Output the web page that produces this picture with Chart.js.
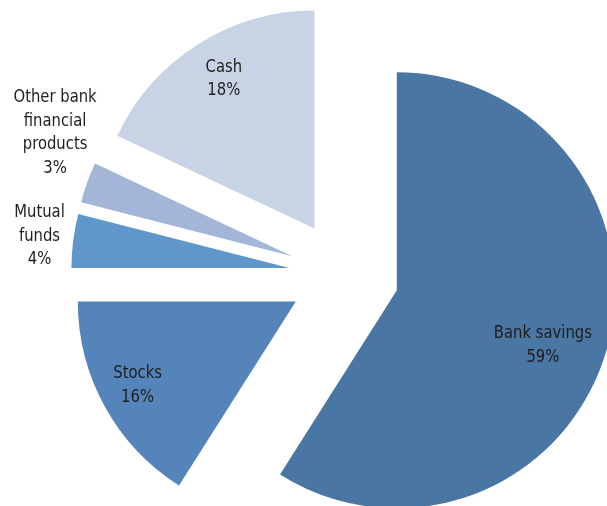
<!DOCTYPE html>
<html>
<head>
<meta charset="utf-8">
<script src="https://cdn.jsdelivr.net/npm/chart.js@4"></script>
<style>
  html, body { margin: 0; padding: 0; background: #fff; }
  #wrap { width: 607px; height: 506px; }
</style>
</head>
<body>
<div id="wrap"><canvas id="pie" width="607" height="506"></canvas></div>
<script>
const categories = ["Bank savings", "Stocks", "Mutual funds", "Other bank financial products", "Cash"];
const shares = [59, 16, 4, 3, 18];
const labelLines = [
  ["Bank savings"],
  ["Stocks"],
  ["Mutual", "funds"],
  ["Other bank", "financial", "products"],
  ["Cash"],
];
const sliceColors = ["#4a76a3", "#5484b9", "#5f97cb", "#a3b6d8", "#c8d3e6"];

// every slice is pulled out of the pie by the same distance
const EXPLODE = 55;

// where each label sits: distance from the pie centre and a small turn off the mid-angle
const labelDist = [211, 234, 307, 322, 230];
const labelTurn = [3.3, 0.7, 0.1, 6.4, 0.9];

const FONT = '18px "DejaVu Sans Condensed", sans-serif';
const SQUEEZE = 0.915;
const LINE_H = 23.5;

// Chart.js shrinks the slice angle when using `offset`, so shift each arc ourselves
const explode = {
  id: "explode",
  beforeDatasetDraw(chart, args) {
    const ctx = chart.ctx;
    args.meta.data.forEach((arc) => {
      const mid = (arc.startAngle + arc.endAngle) / 2;
      ctx.save();
      ctx.translate(Math.cos(mid) * EXPLODE, Math.sin(mid) * EXPLODE);
      arc.draw(ctx);
      ctx.restore();
    });
    return false;
  }
};

const sliceLabels = {
  id: "sliceLabels",
  afterDatasetsDraw(chart) {
    const ctx = chart.ctx;
    const arcs = chart.getDatasetMeta(0).data;
    ctx.save();
    ctx.font = FONT;
    ctx.fillStyle = "#1e1e1e";
    ctx.textAlign = "center";
    ctx.textBaseline = "middle";
    arcs.forEach((arc, i) => {
      const mid = (arc.startAngle + arc.endAngle) / 2 + labelTurn[i] * Math.PI / 180;
      const cx = arc.x + Math.cos(mid) * labelDist[i];
      const cy = arc.y + Math.sin(mid) * labelDist[i];
      const lines = labelLines[i].concat([shares[i] + "%"]);
      const top = cy - (lines.length - 1) * LINE_H / 2;
      lines.forEach((t, k) => {
        ctx.save();
        ctx.translate(cx, top + k * LINE_H);
        ctx.scale(SQUEEZE, 1);
        ctx.fillText(t, 0, 0);
        ctx.restore();
      });
    });
    ctx.restore();
  }
};

new Chart(document.getElementById("pie"), {
  type: "pie",
  data: {
    labels: categories,
    datasets: [{
      data: shares,
      backgroundColor: sliceColors,
      borderWidth: 0,
      clip: false,
    }],
  },
  options: {
    responsive: false,
    animation: false,
    radius: 218,
    layout: { padding: { left: 81, right: 0, top: 44, bottom: 0 } },
    plugins: {
      legend: { display: false },
      tooltip: { enabled: false },
    },
  },
  plugins: [explode, sliceLabels],
});
</script>
</body>
</html>
